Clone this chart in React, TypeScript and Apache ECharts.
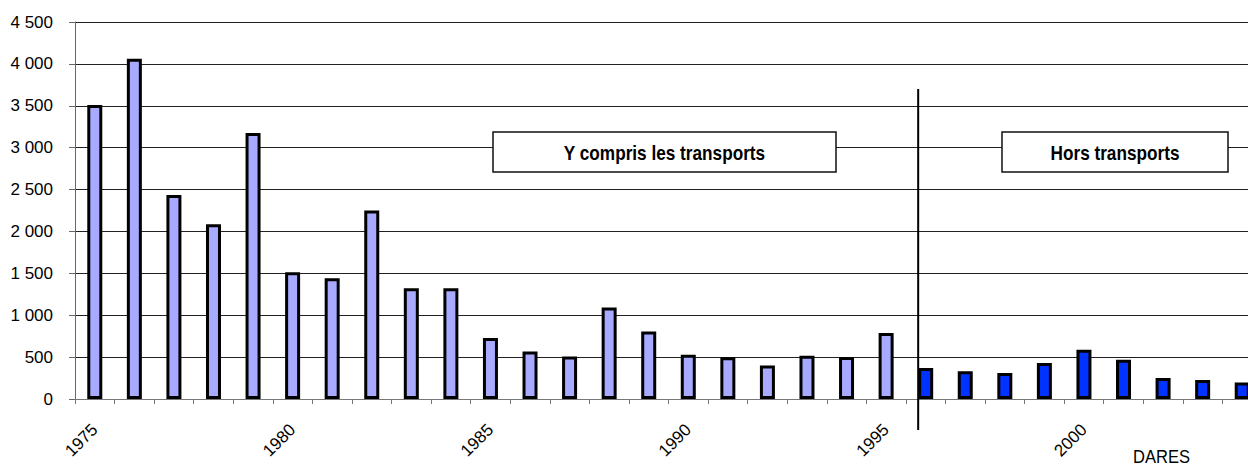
import React, { useEffect, useRef } from "react";
import * as echarts from "echarts";

const years: string[] = [
  "1975", "1976", "1977", "1978", "1979", "1980", "1981", "1982", "1983", "1984",
  "1985", "1986", "1987", "1988", "1989", "1990", "1991", "1992", "1993", "1994",
  "1995", "1996", "1997", "1998", "1999", "2000", "2001", "2002", "2003", "2004",
];
const values: number[] = [
  3510, 4060, 2435, 2085, 3175, 1513, 1442, 2250, 1323, 1323,
  727, 567, 508, 1092, 806, 528, 498, 400, 516, 500,
  787, 370, 330, 310, 430, 588, 469, 250, 226, 198,
];
const firstHorsYear = "1996";
const boxLabels: string[] = ["Y compris les transports", "Hors transports"];
const sourceLabel = "DARES";

const LIGHT = "#A8AAFF";
const DARK = "#0033FF";
const BAR_W = 15;

function fmt(v: number): string {
  if (v >= 1000) {
    const th = Math.floor(v / 1000);
    const rest = String(v % 1000).padStart(3, "0");
    return th + " " + rest;
  }
  return String(v);
}

export default function App() {
  const ref = useRef<HTMLDivElement>(null);
  useEffect(() => {
    if (!ref.current) return;
    const chart = echarts.init(ref.current, null, { renderer: "svg" });
    const splitIdx = years.indexOf(firstHorsYear);
    const font = "'Liberation Sans', Arial, sans-serif";
    chart.setOption({
      animation: false,
      backgroundColor: "#fff",
      grid: {
        left: 75,
        top: 22,
        right: -14,
        bottom: 67,
        containLabel: false,
        outerBoundsMode: "none",
      },
      xAxis: {
        type: "category",
        data: years,
        boundaryGap: true,
        axisLine: { show: true, lineStyle: { color: "#777", width: 1 } },
        axisTick: { show: true, length: 5, interval: 0, lineStyle: { color: "#777" } },
        axisLabel: {
          interval: 4,
          rotate: 45,
          margin: 28,
          fontSize: 17,
          color: "#000",
          fontFamily: font,
        },
        splitLine: { show: false },
      },
      yAxis: {
        type: "value",
        min: 0,
        max: 4500,
        interval: 500,
        axisLine: { show: true, lineStyle: { color: "#666", width: 1 } },
        axisTick: { show: true, length: 6, lineStyle: { color: "#666" } },
        axisLabel: {
          margin: 22,
          fontSize: 17,
          color: "#000",
          fontFamily: font,
          formatter: (v: number) => fmt(v),
        },
        splitLine: { show: true, lineStyle: { color: "#222", width: 1 } },
      },
      series: [
        {
          type: "bar",
          barWidth: BAR_W,
          data: values.map((v, i) => ({
            value: v,
            itemStyle: {
              color: i >= splitIdx ? DARK : LIGHT,
              borderColor: "#000",
              borderWidth: 3,
            },
          })),
        },
      ],
    });

    const cx = chart.convertToPixel({ xAxisIndex: 0 }, firstHorsYear) as number;
    const lineX = cx - BAR_W / 2;

    const box = (x: number, w: number, label: string) => ({
      type: "group",
      x,
      y: 132,
      children: [
        {
          type: "rect",
          shape: { x: 0, y: 0, width: w, height: 40 },
          style: { fill: "#fff", stroke: "#111", lineWidth: 1.5 },
        },
        {
          type: "text",
          x: w / 2,
          y: 21,
          scaleX: 0.86,
          style: {
            text: label,
            fontSize: 20,
            fontWeight: "bold",
            fontFamily: font,
            fill: "#000",
            align: "center",
            verticalAlign: "middle",
          },
        },
      ],
    });

    chart.setOption({
      graphic: [
        {
          type: "line",
          shape: { x1: lineX, y1: 89, x2: lineX, y2: 430 },
          style: { stroke: "#000", lineWidth: 2 },
          z: 10,
        },
        box(493, 343, boxLabels[0]),
        box(1002, 226, boxLabels[1]),
        {
          type: "text",
          x: 1133,
          y: 448,
          scaleX: 0.92,
          style: {
            text: sourceLabel,
            fontSize: 18,
            fontFamily: font,
            fill: "#000",
          },
        },
      ],
    });

    return () => chart.dispose();
  }, []);
  return (
    <div
      ref={ref}
      style={{ position: "absolute", left: 0, top: 0, width: 1248, height: 466 }}
    />
  );
}
